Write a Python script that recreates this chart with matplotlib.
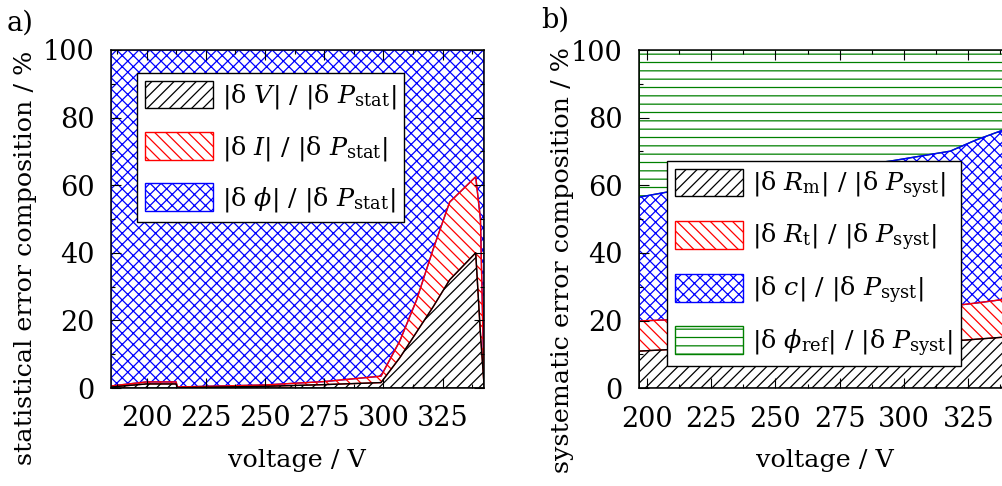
import numpy as np
import matplotlib
matplotlib.use('Agg')
import matplotlib.pyplot as plt
from matplotlib.ticker import MultipleLocator

plt.rcParams['font.family'] = 'DejaVu Serif'
plt.rcParams['mathtext.fontset'] = 'dejavuserif'
plt.rcParams['hatch.linewidth'] = 0.9

# a) statistical error composition, shares in %
voltage_stat = np.array([185, 200, 212.5, 213, 250, 275, 299, 307, 314, 321, 328, 339, 341, 342.5])
share_V = np.array([0.3, 1.2, 1.2, 0.1, 0.5, 1.0, 1.6, 9.0, 16.5, 24.0, 32.0, 40.0, 16.0, 1.0])
share_I = np.array([0.3, 0.6, 0.6, 0.2, 0.4, 0.9, 1.9, 5.0, 9.5, 17.0, 23.0, 22.5, 34.0, 1.0])
share_phi = 100 - share_V - share_I

# b) systematic error composition, shares in %
voltage_syst = np.array([197.1, 210, 250, 295, 318, 328, 342])
share_Rm = np.array([11.0, 11.5, 12.4, 13.3, 13.9, 14.5, 15.3])
share_Rt = np.array([8.9, 8.8, 8.8, 9.5, 10.4, 10.7, 11.3])
share_c = np.array([36.6, 38.0, 41.3, 44.4, 45.8, 48.2, 50.7])
share_phiref = 100 - share_Rm - share_Rt - share_c

labels_stat = [r'|δ $V$| / |δ $P_{\rm stat}$|',
               r'|δ $I$| / |δ $P_{\rm stat}$|',
               r'|δ $\phi$| / |δ $P_{\rm stat}$|']
labels_syst = [r'|δ $R_{\rm m}$| / |δ $P_{\rm syst}$|',
               r'|δ $R_{\rm t}$| / |δ $P_{\rm syst}$|',
               r'|δ $c$| / |δ $P_{\rm syst}$|',
               r'|δ $\phi_{\rm ref}$| / |δ $P_{\rm syst}$|']

colors = ['black', '#ff0000', '#0000ff', '#008000']
hatches = ['///', '\\\\\\', 'xxx', '--']

FS = 19.5
LFS = 18.3
W, H = 1003, 486
fig = plt.figure(figsize=(W / 100, H / 100), dpi=100)


def px_axes(left, top, right, bottom):
    return fig.add_axes([left / W, 1 - bottom / H, (right - left) / W, (bottom - top) / H])


def stack(ax, x, parts, labels):
    tops = np.cumsum(parts, axis=0)
    bottoms = tops - np.array(parts)
    handles = []
    # top layer first so the lower boundary lines end up on top
    for i in reversed(range(len(parts))):
        h = ax.fill_between(x, bottoms[i], tops[i], facecolor='none',
                            edgecolor=colors[i], hatch=hatches[i],
                            linewidth=1.0, label=labels[i])
        handles.insert(0, h)
    return handles


def style(ax, xmin, xmax):
    ax.set_xlim(xmin, xmax)
    ax.set_ylim(0, 100)
    ax.xaxis.set_major_locator(MultipleLocator(25))
    ax.xaxis.set_minor_locator(MultipleLocator(12.5))
    ax.yaxis.set_major_locator(MultipleLocator(20))
    ax.yaxis.set_minor_locator(MultipleLocator(10))
    ax.tick_params(which='both', direction='in', top=True, right=True,
                   labelsize=FS, width=0.8)
    ax.tick_params(which='major', length=7.5)
    ax.tick_params(which='minor', length=3.2)
    ax.tick_params(axis='x', which='major', pad=12.5)
    ax.tick_params(axis='y', which='major', pad=12)
    for s in ax.spines.values():
        s.set_linewidth(1.1)


def legend(ax, handles, left, top):
    ax.legend(handles=handles, loc='upper left',
              bbox_to_anchor=(left / W, 1 - top / H), bbox_transform=fig.transFigure,
              borderaxespad=0, fontsize=LFS, fancybox=False, framealpha=1,
              edgecolor='black', handlelength=2.7, handleheight=1.3,
              handletextpad=0.35, labelspacing=0.8, borderpad=0.3)
    ax.get_legend().get_frame().set_linewidth(1.0)


ax1 = px_axes(111, 50, 484, 388)
h1 = stack(ax1, voltage_stat, [share_V, share_I, share_phi], labels_stat)
style(ax1, 185, 342.5)
legend(ax1, h1, 137, 73)

ax2 = px_axes(639.3, 50, 1012, 388.3)
h2 = stack(ax2, voltage_syst, [share_Rm, share_Rt, share_c, share_phiref], labels_syst)
style(ax2, 197.1, 342)
legend(ax2, h2, 667, 161)

fig.text(20 / W, 1 - 23 / H, 'a)', ha='center', va='center', fontsize=FS)
fig.text(555 / W, 1 - 20 / H, 'b)', ha='center', va='center', fontsize=FS)
fig.text(297 / W, 1 - 460 / H, 'voltage / V', ha='center', va='center', fontsize=LFS)
fig.text(825 / W, 1 - 460 / H, 'voltage / V', ha='center', va='center', fontsize=LFS)
fig.text(26 / W, 1 - 258 / H, 'statistical error composition / %', rotation=90,
         ha='center', va='center', fontsize=LFS)
fig.text(563 / W, 1 - 260 / H, 'systematic error composition / %', rotation=90,
         ha='center', va='center', fontsize=LFS)

fig.savefig('out.png', dpi=100)
